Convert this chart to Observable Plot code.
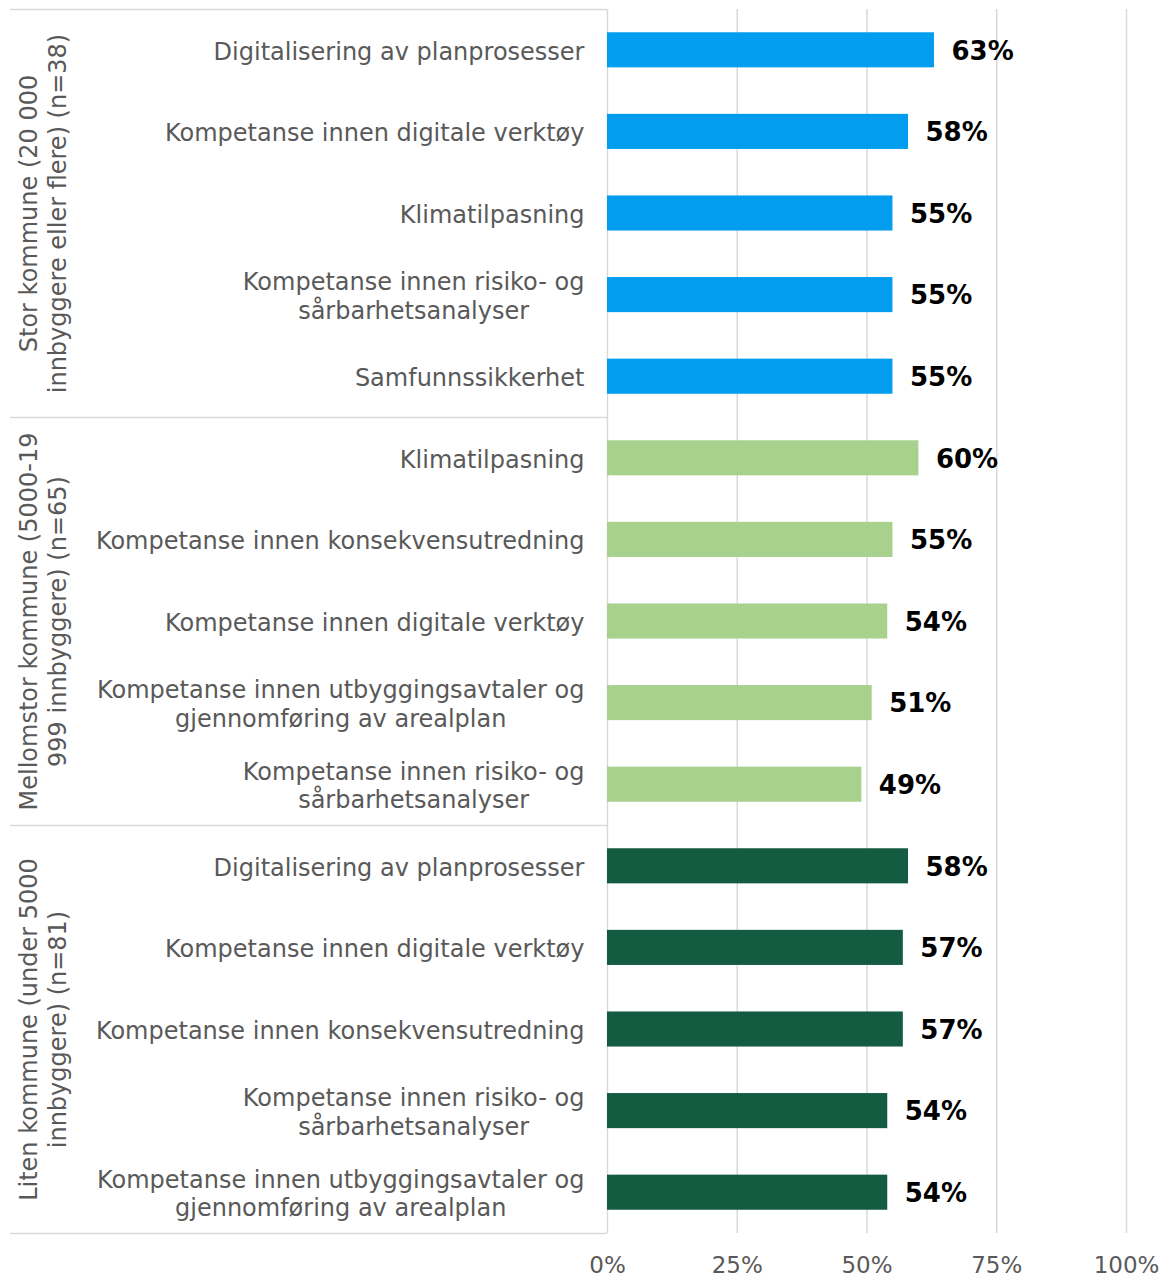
<!DOCTYPE html>
<html>
<head>
<meta charset="utf-8">
<script src="https://cdn.jsdelivr.net/npm/d3@7"></script>
<script src="https://cdn.jsdelivr.net/npm/@observablehq/plot@0.6"></script>
<style>
  html, body { margin: 0; padding: 0; background: #fff; }
</style>
</head>
<body>
<div id="chart"></div>
<script>
const groups = [
  "Stor kommune (20 000\ninnbyggere eller flere) (n=38)",
  "Mellomstor kommune (5000-19\n999 innbyggere) (n=65)",
  "Liten kommune (under 5000\ninnbyggere) (n=81)"
];
const groupColors = ["#039DEF", "#A9D18E", "#135B41"];

const labelsStor = [
  "Digitalisering av planprosesser",
  "Kompetanse innen digitale verktøy",
  "Klimatilpasning",
  "Kompetanse innen risiko- og\nsårbarhetsanalyser",
  "Samfunnssikkerhet"
];
const valuesStor = [63, 58, 55, 55, 55];

const labelsMellom = [
  "Klimatilpasning",
  "Kompetanse innen konsekvensutredning",
  "Kompetanse innen digitale verktøy",
  "Kompetanse innen utbyggingsavtaler og\ngjennomføring av arealplan",
  "Kompetanse innen risiko- og\nsårbarhetsanalyser"
];
const valuesMellom = [60, 55, 54, 51, 49];

const labelsLiten = [
  "Digitalisering av planprosesser",
  "Kompetanse innen digitale verktøy",
  "Kompetanse innen konsekvensutredning",
  "Kompetanse innen risiko- og\nsårbarhetsanalyser",
  "Kompetanse innen utbyggingsavtaler og\ngjennomføring av arealplan"
];
const valuesLiten = [58, 57, 57, 54, 54];

const xTicks = [0, 25, 50, 75, 100];

// build table
const groupLabels = [labelsStor, labelsMellom, labelsLiten];
const groupValues = [valuesStor, valuesMellom, valuesLiten];
const rows = [];
groups.forEach((g, gi) => {
  groupLabels[gi].forEach((l, i) => {
    rows.push({group: g, gi, label: l, key: gi + "|" + l, value: groupValues[gi][i], idx: i});
  });
});
const keys = rows.map(d => d.key);
const labelOf = Object.fromEntries(rows.map(d => [d.key, d.label]));
const firstKeys = rows.filter(d => d.idx === 0).map(d => d.key);
const lastKey = keys[keys.length - 1];
const centers = rows.filter(d => d.idx === 2).map(d => ({key: d.key, text: d.group}));

const W = 1170, H = 1277, mt = 9, mb = 44, ml = 607, mr = 44;
const step = (H - mt - mb) / keys.length;
const grid = "#d9d9d9";
const textGray = "#595959";
const font = "DejaVu Sans, Verdana, sans-serif";

const svg = Plot.plot({
  width: W, height: H,
  marginTop: mt, marginBottom: mb, marginLeft: ml, marginRight: mr,
  style: {fontFamily: font, background: "white", overflow: "visible"},
  x: {domain: [0, 100]},
  y: {domain: keys, paddingInner: 0.57, paddingOuter: 0.285, round: false},
  color: {domain: groups, range: groupColors},
  marks: [
    Plot.ruleX(xTicks.slice(1), {stroke: grid, strokeWidth: 1.5}),
    Plot.ruleX([0], {stroke: grid, strokeWidth: 1.5}),
    Plot.axisY({ticks: firstKeys, tickSize: ml - 10, dy: -step / 2, tickFormat: () => "", color: grid, strokeWidth: 1.5, label: null}),
    Plot.axisY({ticks: [lastKey], tickSize: ml - 10, dy: step / 2, tickFormat: () => "", color: grid, strokeWidth: 1.5, label: null}),
    Plot.barX(rows, {x: "value", y: "key", fill: "group"}),
    Plot.text(rows, {x: "value", y: "key", text: d => d.value + "%", dx: 17, dy: 1, textAnchor: "start",
      fontWeight: "bold", fontSize: 26, fill: "black"}),
    Plot.axisY({tickSize: 0, tickPadding: 23, tickFormat: k => labelOf[k], fontSize: 24,
      color: textGray, lineHeight: 1.2, label: null}),
    Plot.axisX({ticks: xTicks, tickFormat: d => d + "%", tickSize: 0, tickPadding: 23, fontSize: 23,
      color: textGray, label: null}),
    Plot.text(centers, {x: () => 0, y: "key", text: "text", rotate: -90, dx: -565, fontSize: 24,
      fill: textGray, lineHeight: 1.2, textAnchor: "middle"})
  ]
});

document.getElementById("chart").appendChild(svg);

// center-align multi-line tick labels (as in the reference)
svg.querySelectorAll('g[aria-label="y-axis tick label"] text').forEach(t => {
  const spans = t.querySelectorAll("tspan");
  if (spans.length > 1) {
    const w = t.getBBox().width;
    t.setAttribute("text-anchor", "middle");
    spans.forEach(s => s.setAttribute("x", -w / 2));
  }
});
</script>
</body>
</html>
